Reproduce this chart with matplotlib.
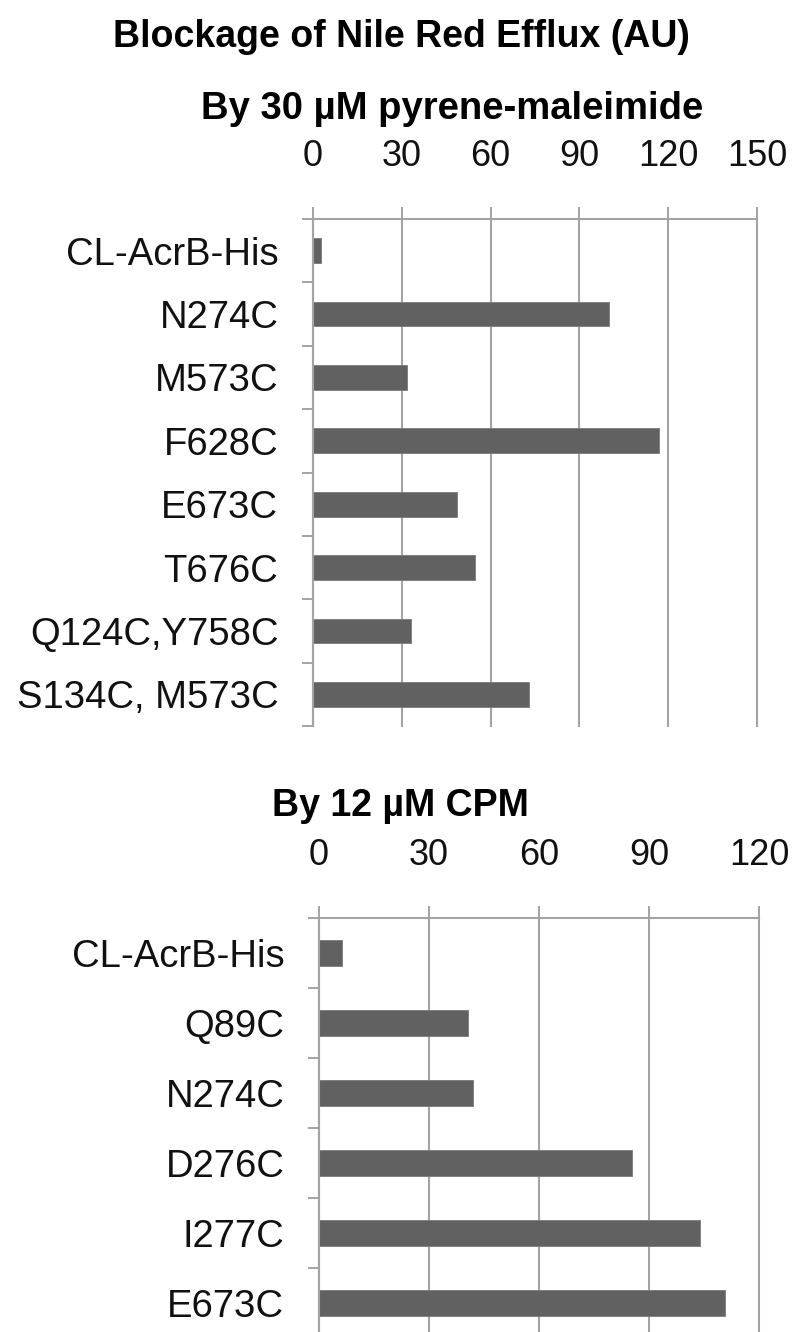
import matplotlib
matplotlib.use("Agg")
import matplotlib.pyplot as plt
import numpy as np

plt.rcParams['font.family'] = ['Liberation Sans', 'DejaVu Sans']

# Data
top_categories = ["CL-AcrB-His", "N274C", "M573C", "F628C", "E673C", "T676C",
                  "Q124C,Y758C", "S134C, M573C"]
top_values = [2.8, 100.1, 31.8, 117.0, 48.7, 54.8, 33.2, 73.0]
top_ticks = [0, 30, 60, 90, 120, 150]

bottom_categories = ["CL-AcrB-His", "Q89C", "N274C", "D276C", "I277C", "E673C"]
bottom_values = [6.4, 40.5, 42.0, 85.4, 103.8, 110.6]
bottom_ticks = [0, 30, 60, 90, 120]

W, H = 794, 1332
fig = plt.figure(figsize=(W / 100, H / 100), dpi=100)

BAR_COLOR = "#616161"
GRID_COLOR = "#a3a3a3"


def px_rect(left, top, right, bottom):
    return [left / W, 1 - bottom / H, (right - left) / W, (bottom - top) / H]


def draw(ax, cats, vals, ticks, xmax, barh):
    n = len(cats)
    y = np.arange(n) + 0.5
    ax.barh(y, vals, height=barh, color=BAR_COLOR, edgecolor="#7a7a7a",
            linewidth=0.6, zorder=3)
    ax.set_xlim(0, xmax)
    ax.set_ylim(n, 0)
    ax.xaxis.tick_top()
    ax.set_xticks(ticks)
    ax.set_xticklabels([str(t) for t in ticks])
    ax.tick_params(axis="x", which="major", direction="out", length=8.6,
                   width=1.4, color=GRID_COLOR, labelsize=26, pad=24,
                   labelcolor="#111111")
    ax.set_yticks(y)
    ax.set_yticklabels(cats)
    ax.set_yticks(np.arange(n + 1), minor=True)
    ax.tick_params(axis="y", which="major", length=0, labelsize=27.5, pad=25,
                   labelcolor="#111111")
    ax.tick_params(axis="y", which="minor", direction="out", length=8.0,
                   width=1.4, color=GRID_COLOR)
    ax.grid(axis="x", color=GRID_COLOR, linewidth=1.5, zorder=1)
    for gl in ax.get_xgridlines():
        gl.set_clip_on(False)
    ax.set_axisbelow(True)
    for s in ["right", "bottom"]:
        ax.spines[s].set_visible(False)
    for s in ["left", "top"]:
        ax.spines[s].set_color(GRID_COLOR)
        ax.spines[s].set_linewidth(1.5)
        ax.spines[s].set_zorder(4)


ax1 = fig.add_axes(px_rect(313, 219, 757, 726))
draw(ax1, top_categories, top_values, top_ticks, 150, 0.39)

ax2 = fig.add_axes(px_rect(319, 918, 759, 1338))
draw(ax2, bottom_categories, bottom_values, bottom_ticks, 120, 0.37)

fig.text(401 / W, 1 - 37 / H, "Blockage of Nile Red Efflux (AU)", ha="center",
         va="center", fontsize=27, fontweight="bold", color="#000000")
fig.text(452 / W, 1 - 109 / H, "By 30 \u00b5M pyrene-maleimide", ha="center",
         va="center", fontsize=27.5, fontweight="bold", color="#000000")
fig.text(400 / W, 1 - 806 / H, "By 12 \u00b5M CPM", ha="center",
         va="center", fontsize=27, fontweight="bold", color="#000000")

fig.savefig("out.png", dpi=100)
